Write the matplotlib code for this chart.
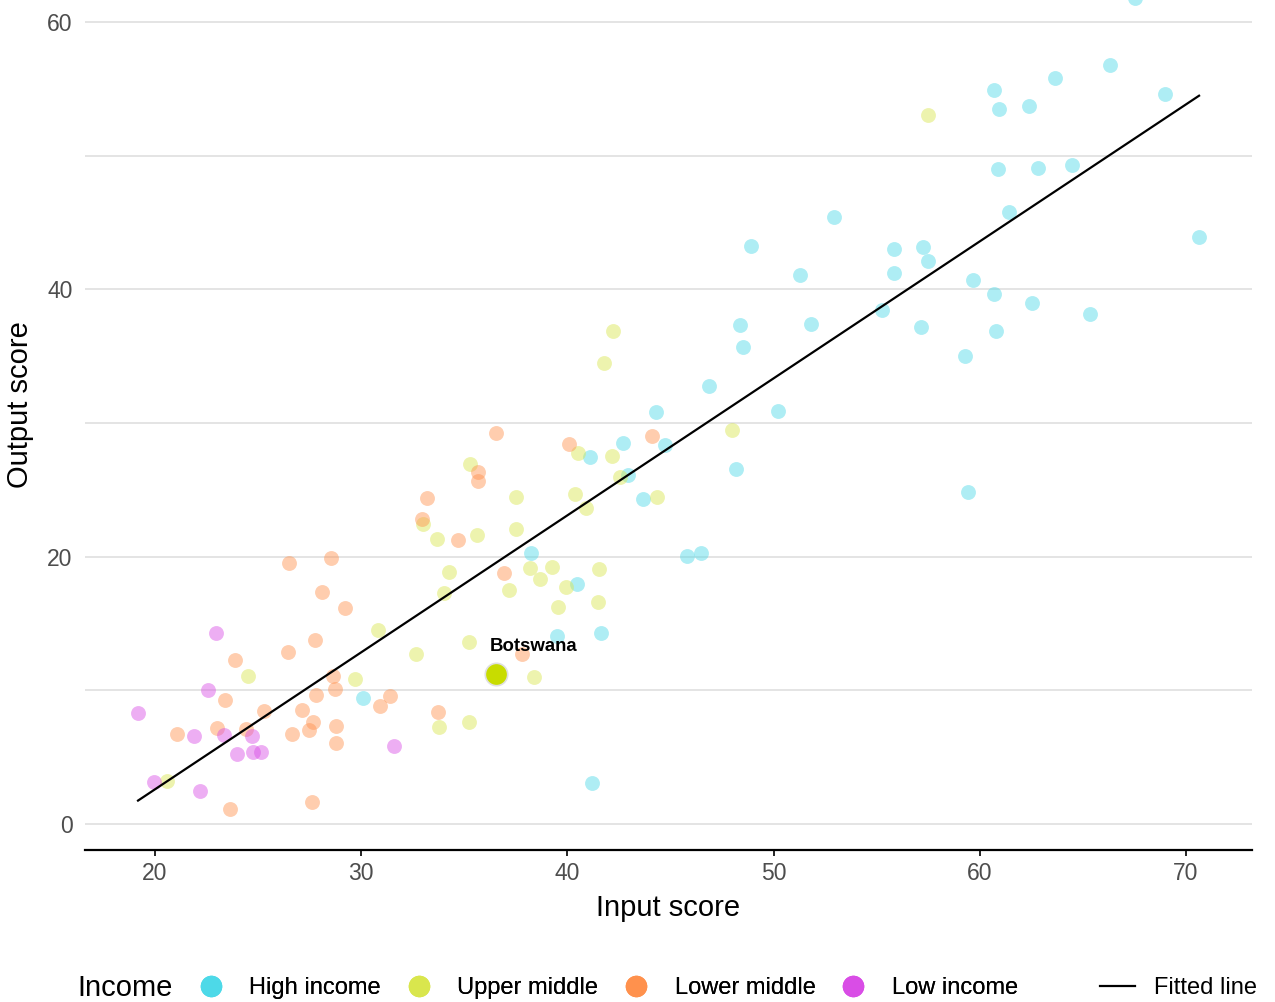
import numpy as np
import matplotlib.pyplot as plt
from matplotlib.lines import Line2D

plt.rcParams['font.family'] = ['Liberation Sans', 'DejaVu Sans']

# scores
low_x = [19.18, 19.95, 21.89, 22.18, 22.57, 22.96, 23.35, 23.98, 24.70, 24.75, 25.14, 31.59]
low_y = [8.30, 3.14, 6.58, 2.47, 10.02, 14.29, 6.66, 5.24, 6.58, 5.39, 5.39, 5.84]

lower_x = [26.50, 28.54, 28.10, 29.21, 27.76, 26.45, 23.88, 23.39, 21.07, 23.01, 24.41, 25.29,
           27.13, 27.66, 27.47, 26.64, 27.81, 28.63, 28.73, 28.78, 28.78, 27.61, 23.64, 30.91,
           31.40, 33.72, 36.54, 40.08, 44.10, 35.66, 35.66, 33.19, 32.95, 34.69, 36.93, 37.80]
lower_y = [19.53, 19.90, 17.36, 16.16, 13.77, 12.87, 12.27, 9.28, 6.73, 7.18, 7.11, 8.45,
           8.53, 7.63, 7.03, 6.73, 9.65, 11.07, 10.10, 7.33, 6.06, 1.65, 1.12, 8.83,
           9.58, 8.38, 29.25, 28.43, 29.03, 26.33, 25.66, 24.39, 22.82, 21.25, 18.78, 12.72]

upper_x = [20.58, 24.51, 29.70, 30.81, 32.66, 33.77, 35.23, 34.02, 34.26, 33.68, 33.00, 35.28,
           35.62, 37.51, 37.51, 37.17, 38.19, 38.67, 39.25, 39.93, 39.54, 41.53, 41.48, 40.37,
           40.51, 40.90, 42.16, 42.55, 44.35, 35.23, 38.38, 42.21, 41.77, 47.98, 57.49]
upper_y = [3.22, 11.07, 10.85, 14.51, 12.72, 7.26, 7.63, 17.28, 18.85, 21.32, 22.44, 26.93,
           21.62, 24.46, 22.07, 17.51, 19.15, 18.33, 19.23, 17.73, 16.23, 19.08, 16.61, 24.69,
           27.76, 23.64, 27.53, 25.96, 24.46, 13.62, 11.00, 36.88, 34.49, 29.48, 53.04]

high_x = [30.09, 44.30, 42.70, 41.10, 44.73, 42.94, 43.67, 38.24, 40.47, 45.80, 46.48, 39.50,
          41.63, 41.19, 46.87, 48.90, 52.93, 51.28, 55.84, 57.25, 57.49, 55.84, 61.42, 59.67,
          60.69, 62.53, 65.34, 55.26, 51.81, 48.37, 48.52, 57.15, 60.79, 59.28, 50.21, 48.18,
          59.43, 67.53, 66.31, 63.65, 60.69, 60.93, 62.39, 68.98, 60.88, 62.82, 64.47, 70.63]
high_y = [9.43, 30.82, 28.50, 27.46, 28.35, 26.11, 24.31, 20.27, 17.95, 20.05, 20.27, 14.06,
          14.29, 3.07, 32.77, 43.24, 45.41, 41.07, 43.02, 43.17, 42.12, 41.22, 45.78, 40.70,
          39.65, 38.98, 38.15, 38.45, 37.41, 37.33, 35.69, 37.18, 36.88, 35.01, 30.90, 26.56,
          24.84, 61.79, 56.78, 55.81, 54.91, 53.49, 53.71, 54.61, 49.00, 49.08, 49.30, 43.91]

highlight_name = "Botswana"
highlight_x = 36.54
highlight_y = 11.22

groups = ["High income", "Upper middle", "Lower middle", "Low income"]
colors = ["#4dd9e8", "#d9e64d", "#ff914d", "#d94de6"]
series = [(high_x, high_y), (upper_x, upper_y), (lower_x, lower_y), (low_x, low_y)]

fig = plt.figure(figsize=(12.75, 10.02), dpi=100)
ax = fig.add_axes([0.0667, 0.1517, 0.9153, 0.8483])

for (xs, ys), c in zip(series, colors):
    ax.scatter(xs, ys, s=115, color=c, alpha=0.45, linewidths=0, zorder=3)

# fitted line through all countries
all_x = np.concatenate([low_x, lower_x, upper_x, high_x, [highlight_x]])
all_y = np.concatenate([low_y, lower_y, upper_y, high_y, [highlight_y]])
slope, intercept = np.polyfit(all_x, all_y, 1)
fx = np.array([all_x.min(), all_x.max()])
ax.plot(fx, slope * fx + intercept, color="black", linewidth=1.6, zorder=4)

ax.scatter([highlight_x], [highlight_y], s=260, color="#c8dc00", edgecolors="#e0e0e0",
           linewidths=1.2, zorder=5)
ax.annotate(highlight_name, (highlight_x, highlight_y), xytext=(27, 20),
            textcoords="offset points", ha="center", va="center",
            fontsize=13.4, fontweight="bold", zorder=6)

ax.set_xlim(16.61, 73.2)
ax.set_ylim(-1.945, 61.64)
ax.set_xticks([20, 30, 40, 50, 60, 70])
ax.set_yticks([0, 20, 40, 60])
ax.set_yticks([10, 30, 50], minor=True)
ax.grid(axis="y", which="both", color="#dcdcdc", linewidth=1.1, zorder=0)
ax.set_axisbelow(True)
for side in ["left", "right", "top"]:
    ax.spines[side].set_visible(False)
ax.spines["bottom"].set_linewidth(1.6)
ax.tick_params(axis="x", length=4, width=1.2, pad=5, labelsize=16.5, labelcolor="#4d4d4d")
ax.tick_params(axis="y", which="both", length=0, pad=9, labelsize=16.5, labelcolor="#4d4d4d")
ax.set_xlabel("Input score", fontsize=21, labelpad=6)
ax.set_ylabel("Output score", fontsize=21)
ax.yaxis.set_label_coords(-0.044, 0.5235)

handles = [Line2D([], [], marker="o", linestyle="none", markersize=14.5, color=c) for c in colors]
fig.text(0.061, 0.014, "Income", fontsize=21, va="center", ha="left")
leg = fig.legend(handles, groups, loc="center left", bbox_to_anchor=(0.1515, 0.014), ncol=4,
                 frameon=False, fontsize=17, handlelength=1.5, handletextpad=0.88,
                 columnspacing=0.85, borderpad=0, borderaxespad=0)
fig.add_artist(leg)
fig.legend([Line2D([], [], color="black", linewidth=1.6)], ["Fitted line"],
           loc="center left", bbox_to_anchor=(0.8627, 0.014), frameon=False, fontsize=17,
           handlelength=1.5, handletextpad=0.8, borderpad=0, borderaxespad=0)

fig.savefig("out.png", dpi=100)
